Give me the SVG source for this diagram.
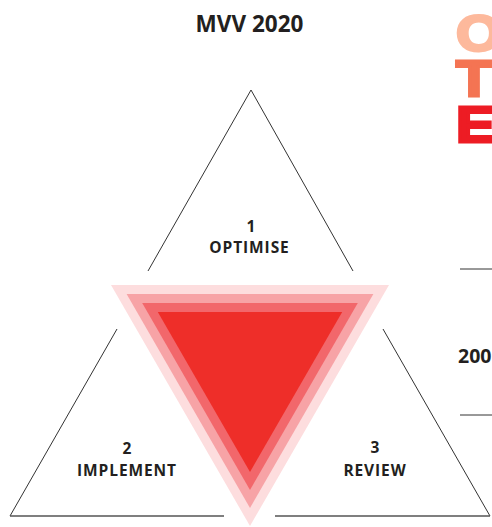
<svg xmlns="http://www.w3.org/2000/svg" width="492" height="527" viewBox="0 0 492 527">
<style>
.lbl{font-family:"Open Sans","DejaVu Sans",sans-serif;font-weight:bold;fill:#231F20;text-anchor:middle}
.big{font-family:"Liberation Sans","Arial",sans-serif;font-weight:bold;font-size:42px;stroke-width:2.4;stroke-linejoin:miter}
.ln{stroke:#333;stroke-width:1;fill:none}
.base{stroke:#555;stroke-width:1.4;fill:none}
</style>
<rect width="492" height="527" fill="#fff"/>
<text class="lbl" x="249.5" y="32" font-size="22.5">MVV 2020</text>
<g id="side-letters">
<text class="big" x="0" y="0" fill="#FDB99C" stroke="#FDB99C" transform="translate(456,51) scale(1.4,1.17)">O</text>
<text class="big" x="0" y="0" fill="#F47453" stroke="#F47453" transform="translate(456,96) scale(1.4,1.17)">T</text>
<text class="big" x="0" y="0" fill="#ED1C24" stroke="#ED1C24" transform="translate(456,142) scale(1.4,1.17)">E</text>
</g>
<g id="side-info">
<line class="ln" x1="460" y1="269" x2="492" y2="269"/>
<text class="lbl" x="458" y="363" font-size="19.5" style="text-anchor:start">200</text>
<line class="ln" x1="460" y1="415" x2="492" y2="415"/>
</g>
<g id="connectors">
<polyline class="ln" points="148,271 251,90 353,271"/>
<line class="ln" x1="117" y1="329" x2="10" y2="516"/>
<line class="base" x1="10" y1="516" x2="224" y2="516"/>
<line class="ln" x1="383" y1="329" x2="490" y2="516"/>
<line class="base" x1="275" y1="516" x2="490" y2="516"/>
</g>
<g id="center">
<polygon points="111,285 389,285 250,526" fill="#FDDDDE"/>
<polygon points="126.6,294 373.4,294 250,508" fill="#F7A3A6"/>
<polygon points="142.2,303 357.8,303 250,490" fill="#F2676B"/>
<polygon points="157.8,312 342.2,312 250,472" fill="#EE2E29"/>
</g>
<g id="node-optimise">
<text class="lbl" x="251" y="232" font-size="15.5">1</text>
<text class="lbl" x="249.5" y="253" font-size="15.5" letter-spacing="0.9">OPTIMISE</text>
</g>
<g id="node-implement">
<text class="lbl" x="127" y="454" font-size="15.5">2</text>
<text class="lbl" x="127" y="476" font-size="15.5" letter-spacing="0.9">IMPLEMENT</text>
</g>
<g id="node-review">
<text class="lbl" x="375" y="453" font-size="15.5">3</text>
<text class="lbl" x="375" y="476" font-size="15.5" letter-spacing="0.9">REVIEW</text>
</g>
</svg>
